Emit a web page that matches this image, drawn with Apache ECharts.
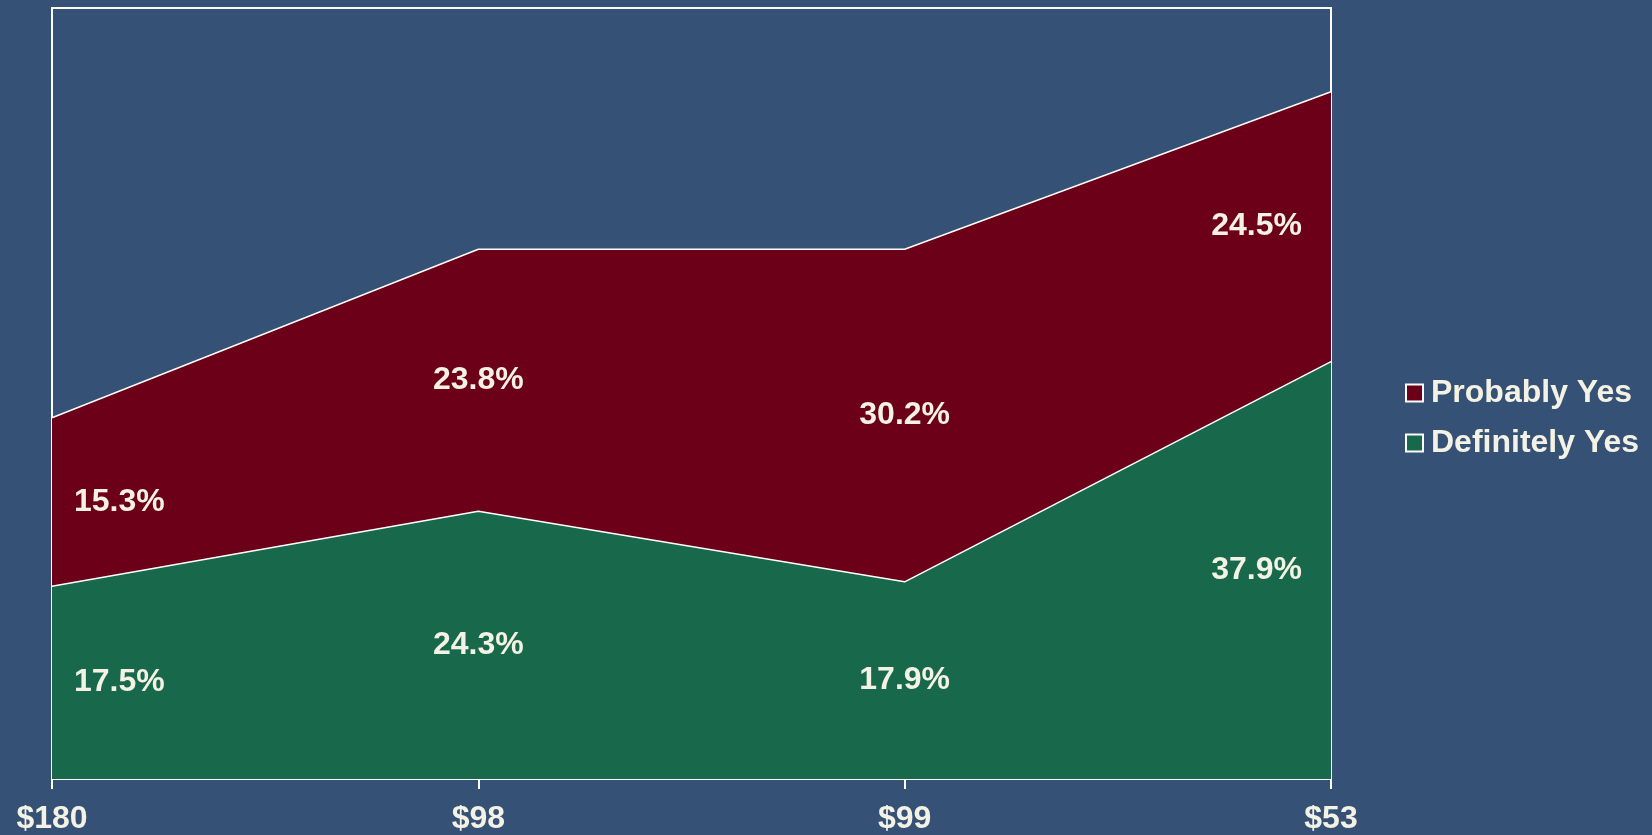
<!DOCTYPE html>
<html>
<head>
    <meta charset="utf-8" />
    <title>Purchase intent by price</title>
    <style>
        html, body { margin: 0; padding: 0; background: #355176; }
        #main { width: 1652px; height: 835px; }
    </style>
</head>
<body>
<div id="main"></div>
<script src="https://cdn.jsdelivr.net/npm/echarts@6/dist/echarts.min.js"></script>
<script type="text/javascript">
    var prices = ['$180', '$98', '$99', '$53'];
    var definitelyYes = [17.5, 24.3, 17.9, 37.9];
    var probablyYes = [15.3, 23.8, 30.2, 24.5];

    var textColor = '#f4f2e4';
    var fontFam = '"Liberation Sans", Arial, sans-serif';

    // label anchors sit in the middle of each stacked band
    function labelPoints(base, vals) {
        return vals.map(function (v, i) {
            var b = base ? base[i] : 0;
            var al = 'center', off = [0, 0];
            if (i === 0) { al = 'left'; off = [22, 0]; }
            if (i === vals.length - 1) { al = 'right'; off = [-29, 0]; }
            return {
                value: [i, b + v / 2],
                label: { align: al, offset: off },
                raw: v
            };
        });
    }

    function labelSeries(points) {
        return {
            type: 'scatter',
            symbolSize: 1,
            itemStyle: { color: 'rgba(0,0,0,0)', opacity: 1 },
            silent: true,
            z: 5,
            label: {
                show: true,
                position: 'inside',
                color: textColor,
                opacity: 1,
                fontFamily: fontFam,
                fontWeight: 'bold',
                fontSize: 32,
                formatter: function (p) { return p.data.raw.toFixed(1) + '%'; }
            },
            data: points
        };
    }

    var chart = echarts.init(document.getElementById('main'));
    chart.setOption({
        backgroundColor: '#355176',
        animation: false,
        grid: {
            left: 52, right: 321, top: 8, bottom: 56,
            show: true, borderColor: '#ffffff', borderWidth: 2,
            backgroundColor: 'transparent'
        },
        legend: {
            orient: 'vertical',
            left: 1400,
            top: 372,
            itemWidth: 17,
            itemHeight: 17,
            itemGap: 18,
            icon: 'rect',
            textStyle: {
                color: textColor,
                fontFamily: fontFam,
                fontWeight: 'bold',
                fontSize: 32,
                lineHeight: 32,
                padding: [0, 0, 0, 3]
            },
            data: ['Probably Yes', 'Definitely Yes']
        },
        xAxis: {
            type: 'category',
            boundaryGap: false,
            data: prices,
            axisLine: { lineStyle: { color: '#ffffff', width: 2 } },
            axisTick: { show: true, length: 10, lineStyle: { color: '#ffffff', width: 2 } },
            axisLabel: {
                color: textColor,
                fontFamily: fontFam,
                fontWeight: 'bold',
                fontSize: 32,
                margin: 24
            },
            splitLine: { show: false }
        },
        yAxis: {
            type: 'value',
            min: 0,
            max: 70,
            show: false
        },
        series: [
            {
                name: 'Definitely Yes',
                type: 'line',
                stack: 'total',
                symbol: 'none',
                lineStyle: { color: '#ffffff', width: 1.5 },
                itemStyle: { color: '#18684c', borderColor: '#ffffff', borderWidth: 1 },
                areaStyle: { color: '#18684c', opacity: 1 },
                data: definitelyYes
            },
            {
                name: 'Probably Yes',
                type: 'line',
                stack: 'total',
                symbol: 'none',
                lineStyle: { color: '#ffffff', width: 1.5 },
                itemStyle: { color: '#6d0019', borderColor: '#ffffff', borderWidth: 1 },
                areaStyle: { color: '#6d0019', opacity: 1 },
                data: probablyYes
            },
            labelSeries(labelPoints(null, definitelyYes)),
            labelSeries(labelPoints(definitelyYes, probablyYes))
        ]
    });
</script>
</body>
</html>
